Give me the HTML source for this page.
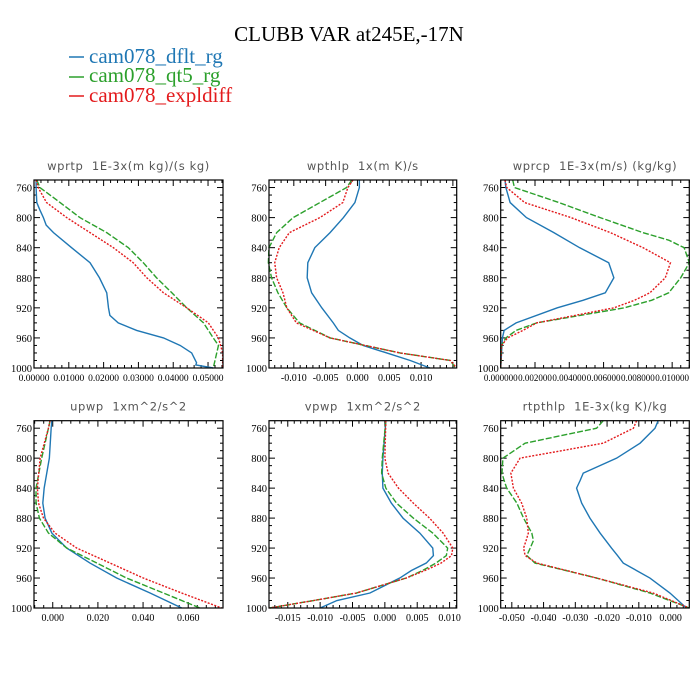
<!DOCTYPE html>
<html><head><meta charset="utf-8"><style>
html,body{margin:0;padding:0;background:#fff;}
svg{display:block;}
.pt{white-space:pre;}
</style></head><body>
<svg id="chart" width="700" height="700" xmlns="http://www.w3.org/2000/svg">
<rect width="700" height="700" fill="#fff"/>
<text x="349" y="41" text-anchor="middle" font-family="Liberation Serif, serif" font-size="21" fill="#000">CLUBB VAR at245E,-17N</text>
<g font-family="Liberation Serif, serif" font-size="21">
 <g><line x1="69" y1="57" x2="84" y2="57" stroke="#1f77b4" stroke-width="1.5"/><text x="89" y="63" fill="#1f77b4">cam078_dflt_rg</text></g>
 <g><line x1="69" y1="77" x2="84" y2="77" stroke="#2ca02c" stroke-width="1.5"/><text x="89" y="82" fill="#2ca02c">cam078_qt5_rg</text></g>
 <g><line x1="69" y1="96" x2="84" y2="96" stroke="#e31a1c" stroke-width="1.5"/><text x="89" y="102" fill="#e31a1c">cam078_expldiff</text></g>
</g>
</svg>
<script>
// ---- panel 1: wprtp ----
const p1BlueLev=[750,760,780,790,800,810,820,840,860,880,900,920,930,940,950,960,970,980,993,996,1000];
const p1Blue=[0.0006,0.0006,0.0008,0.0017,0.0027,0.0035,0.0056,0.0108,0.0161,0.0188,0.0209,0.0214,0.0218,0.0242,0.0295,0.0372,0.042,0.0453,0.0467,0.0465,0.0515];
const p1GreenLev=[750,760,780,800,820,840,860,880,900,920,940,960,970,980,1000];
const p1Green=[0.0008,0.0017,0.0075,0.0132,0.0209,0.0271,0.0314,0.0352,0.0396,0.0439,0.0487,0.0515,0.053,0.0525,0.0515];
const p1RedLev=[750,760,780,800,820,840,860,880,900,920,940,960,980,1000];
const p1Red=[0.0006,0.0012,0.0036,0.0094,0.0161,0.0228,0.0285,0.0324,0.0372,0.0439,0.0501,0.053,0.0542,0.0542];
// ---- panel 2: wpthlp ----
const p2BlueLev=[750,760,780,800,820,840,860,880,900,920,940,950,960,970,980,990,1000];
const p2Blue=[0.0003,0.0003,-0.0004,-0.0022,-0.0043,-0.0067,-0.0078,-0.0079,-0.0072,-0.0056,-0.0038,-0.003,-0.0012,0.0009,0.0046,0.0083,0.0114];
const p2GreenLev=[750,760,780,800,820,840,860,880,900,920,940,960,980,990,1000];
const p2Green=[-0.0009,-0.0017,-0.0059,-0.0101,-0.0127,-0.0139,-0.014,-0.0135,-0.0125,-0.0111,-0.0091,-0.0043,0.0067,0.0146,0.0154];
const p2RedLev=[750,760,780,800,820,840,860,880,900,920,940,960,980,990,1000];
const p2Red=[-0.0007,-0.0015,-0.0023,-0.0059,-0.0107,-0.0123,-0.013,-0.0127,-0.0117,-0.0111,-0.0096,-0.0043,0.0067,0.0146,0.0156];
// ---- panel 3: wprcp ----
const p3BlueLev=[750,760,780,800,820,840,860,880,900,910,920,940,950,960,1000];
const p3Blue=[0.00025,0.0003,0.00055,0.0015,0.0031,0.0046,0.0063,0.0066,0.0061,0.0048,0.0033,0.0009,0.0002,0.0001,0];
const p3GreenLev=[750,760,780,800,820,830,840,860,880,900,910,920,940,950,960,970,1000];
const p3Green=[0.0007,0.0008,0.0034,0.0058,0.0083,0.0098,0.0107,0.011,0.0105,0.0098,0.0088,0.0072,0.0021,0.0009,0.0003,0.00005,0];
const p3RedLev=[750,760,780,800,820,840,860,880,900,910,920,940,950,960,970,1000];
const p3Red=[0.00025,0.00035,0.0014,0.0041,0.0064,0.0083,0.0099,0.0096,0.0087,0.0078,0.0066,0.0021,0.0013,0.0004,0.00005,0];
// ---- panel 4: upwp ----
const p4Lev=[750,760,800,840,860,880,900,920,940,960,980,1000];
const p4Blue=[-0.0004,-0.0007,-0.0015,-0.0038,-0.0044,-0.0034,-0.0004,0.0062,0.0165,0.0283,0.0431,0.0571];
const p4Green=[-0.0012,-0.0019,-0.0049,-0.0074,-0.0074,-0.0059,-0.0019,0.0062,0.0195,0.0327,0.049,0.0652];
const p4Red=[-0.0012,-0.0019,-0.0056,-0.0068,-0.0063,-0.0041,0.001,0.0106,0.0254,0.0401,0.0571,0.0748];
// ---- panel 5: vpwp ----
const p5Lev=[750,800,820,840,860,880,900,920,930,940,950,960,980,990,1000];
const p5Blue=[0.00015,-0.0003,-0.0004,-0.0003,0.001,0.0028,0.0054,0.0074,0.0075,0.0064,0.0041,0.0023,-0.0023,-0.0074,-0.010];
const p5Green=[0.00015,-0.0004,-0.0005,0.00015,0.0018,0.0044,0.0074,0.0097,0.0095,0.0079,0.0058,0.0033,-0.0044,-0.011,-0.0178];
const p5Red=[0.00015,0,0.0005,0.0021,0.0044,0.0069,0.009,0.0105,0.0103,0.0087,0.0062,0.0033,-0.0044,-0.011,-0.0178];
// ---- panel 6: rtpthlp ----
const p6Lev=[750,760,780,800,820,830,840,860,880,900,910,920,930,940,960,980,1000];
const p6Blue=[-0.0039,-0.0049,-0.0096,-0.017,-0.0275,-0.0285,-0.0296,-0.028,-0.0254,-0.0222,-0.0204,-0.0186,-0.0167,-0.0149,-0.0065,-0.0002,0.005];
const p6Green=[-0.0212,-0.0233,-0.0458,-0.0528,-0.0531,-0.0524,-0.0516,-0.0484,-0.0463,-0.0437,-0.0432,-0.0442,-0.0453,-0.0427,-0.0233,-0.0065,0.0059];
const p6Red=[-0.0107,-0.0117,-0.0212,-0.0474,-0.0503,-0.0499,-0.0495,-0.0469,-0.0453,-0.0448,-0.0455,-0.0463,-0.0458,-0.0421,-0.0233,-0.0055,0.0059];
// tick labels
const yTicks=[760,800,840,880,920,960,1000];
const p1XTicks=[0,0.01,0.02,0.03,0.04,0.05];
const p1XLabels=["0.00000","0.01000","0.02000","0.03000","0.04000","0.05000"];
const p2XTicks=[-0.01,-0.005,0,0.005,0.01];
const p2XLabels=["-0.010","-0.005","0.000","0.005","0.010"];
const p3XTicks=[0,0.002,0.004,0.006,0.008,0.01];
const p3XLabels=["0.000000","0.002000","0.004000","0.006000","0.008000","0.010000"];
const p4XTicks=[0,0.02,0.04,0.06];
const p4XLabels=["0.000","0.020","0.040","0.060"];
const p5XTicks=[-0.015,-0.01,-0.005,0,0.005,0.01];
const p5XLabels=["-0.015","-0.010","-0.005","0.000","0.005","0.010"];
const p6XTicks=[-0.05,-0.04,-0.03,-0.02,-0.01,0];
const p6XLabels=["-0.050","-0.040","-0.030","-0.020","-0.010","0.000"];

const NS="http://www.w3.org/2000/svg";
const svg=document.getElementById('chart');
function mk(tag,attrs,parent){const e=document.createElementNS(NS,tag);for(const k in attrs)e.setAttribute(k,attrs[k]);parent.appendChild(e);return e;}
const C={blue:"#1f77b4",green:"#2ca02c",red:"#e31a1c"};

function panel(cfg){
  const g=mk('g',{},svg);
  
  
  const L=cfg.x0,R=cfg.x1,T=cfg.y0,B=cfg.y1;
  const xs=v=>L+(v-cfg.xmin)/(cfg.xmax-cfg.xmin)*(R-L);
  const ys=p=>T+(p-750)/(1000-750)*(B-T);
  const t=mk('text',{x:(L+R)/2,y:T-10,'text-anchor':'middle','font-family':'DejaVu Sans, sans-serif','font-size':'11.5','fill':'#555','class':'pt','letter-spacing':'0.6'},g);
  t.textContent=cfg.title;
  
  
  for(let p=760;p<=1000;p+=10){
    const y=ys(p),len=(p%40===0)?6:3;
    mk('line',{x1:L,y1:y,x2:L+len,y2:y,stroke:'#000','stroke-width':1},g);
    mk('line',{x1:R,y1:y,x2:R-len,y2:y,stroke:'#000','stroke-width':1},g);
  }
  yTicks.forEach(p=>{
    const tt=mk('text',{x:L-2,y:ys(p)+4,'text-anchor':'end','font-family':'Liberation Serif, serif','font-size':'10.5'},g);
    tt.textContent=p;
    
    
  });
  const step=cfg.ticks[1]-cfg.ticks[0], minor=step/cfg.minor;
  for(let v=cfg.ticks[0]-step*3;v<=cfg.xmax+1e-12;v+=minor){
    if(v<cfg.xmin-1e-12) continue;
    const x=xs(v);
    const k=Math.round((v-cfg.ticks[0])/minor);
    const len=(k%cfg.minor===0)?6:3;
    mk('line',{x1:x,y1:B,x2:x,y2:B-len,stroke:'#000','stroke-width':1},g);
    mk('line',{x1:x,y1:T,x2:x,y2:T+len,stroke:'#000','stroke-width':1},g);
  }
  cfg.ticks.forEach((v,i)=>{
    const tt=mk('text',{x:xs(v),y:B+13,'text-anchor':'middle','font-family':'Liberation Serif, serif','font-size':cfg.lfs||'10'},g);
    tt.textContent=cfg.labels[i];
    
    
  });
  const series=[['blue',cfg.bLev,cfg.b,''],['green',cfg.gLev,cfg.g,'6,2'],['red',cfg.rLev,cfg.r,'2,1.5']];
  series.forEach(s=>{
    const d=s[1].map((p,i)=>(i?'L':'M')+xs(s[2][i]).toFixed(2)+','+ys(p).toFixed(2)).join('');
    const a={d:d,fill:'none',stroke:C[s[0]],'stroke-width':1.4};
    if(s[3])a['stroke-dasharray']=s[3];
    const pe=mk('path',a,g);
    
    
  });
  const fr=mk('rect',{x:L,y:T,width:R-L,height:B-T,fill:'none',stroke:'#000','stroke-width':1.2},g);
  
  
}
const c1=[34,223],c2=[269,456.7],c3=[500.7,689.3],r1=[180,368],r2=[420.7,608];
panel({name:'wprtp',title:'wprtp  1E-3x(m kg)/(s kg)',x0:c1[0],x1:c1[1],y0:r1[0],y1:r1[1],xmin:0,xmax:0.0543,ticks:p1XTicks,labels:p1XLabels,minor:5,lfs:'9.5',bLev:p1BlueLev,b:p1Blue,gLev:p1GreenLev,g:p1Green,rLev:p1RedLev,r:p1Red});
panel({name:'wpthlp',title:'wpthlp  1x(m K)/s',x0:c2[0],x1:c2[1],y0:r1[0],y1:r1[1],xmin:-0.0139,xmax:0.0156,ticks:p2XTicks,labels:p2XLabels,minor:5,bLev:p2BlueLev,b:p2Blue,gLev:p2GreenLev,g:p2Green,rLev:p2RedLev,r:p2Red});
panel({name:'wprcp',title:'wprcp  1E-3x(m/s) (kg/kg)',x0:c3[0],x1:c3[1],y0:r1[0],y1:r1[1],xmin:0,xmax:0.011,ticks:p3XTicks,labels:p3XLabels,minor:4,lfs:'9',bLev:p3BlueLev,b:p3Blue,gLev:p3GreenLev,g:p3Green,rLev:p3RedLev,r:p3Red});
panel({name:'upwp',title:'upwp  1xm^2/s^2',x0:c1[0],x1:c1[1],y0:r2[0],y1:r2[1],xmin:-0.0083,xmax:0.0754,ticks:p4XTicks,labels:p4XLabels,minor:5,bLev:p4Lev,b:p4Blue,gLev:p4Lev,g:p4Green,rLev:p4Lev,r:p4Red});
panel({name:'vpwp',title:'vpwp  1xm^2/s^2',x0:c2[0],x1:c2[1],y0:r2[0],y1:r2[1],xmin:-0.0179,xmax:0.0111,ticks:p5XTicks,labels:p5XLabels,minor:5,bLev:p5Lev,b:p5Blue,gLev:p5Lev,g:p5Green,rLev:p5Lev,r:p5Red});
panel({name:'rtpthlp',title:'rtpthlp  1E-3x(kg K)/kg',x0:c3[0],x1:c3[1],y0:r2[0],y1:r2[1],xmin:-0.0535,xmax:0.0059,ticks:p6XTicks,labels:p6XLabels,minor:5,bLev:p6Lev,b:p6Blue,gLev:p6Lev,g:p6Green,rLev:p6Lev,r:p6Red});
</script>
</body></html>
